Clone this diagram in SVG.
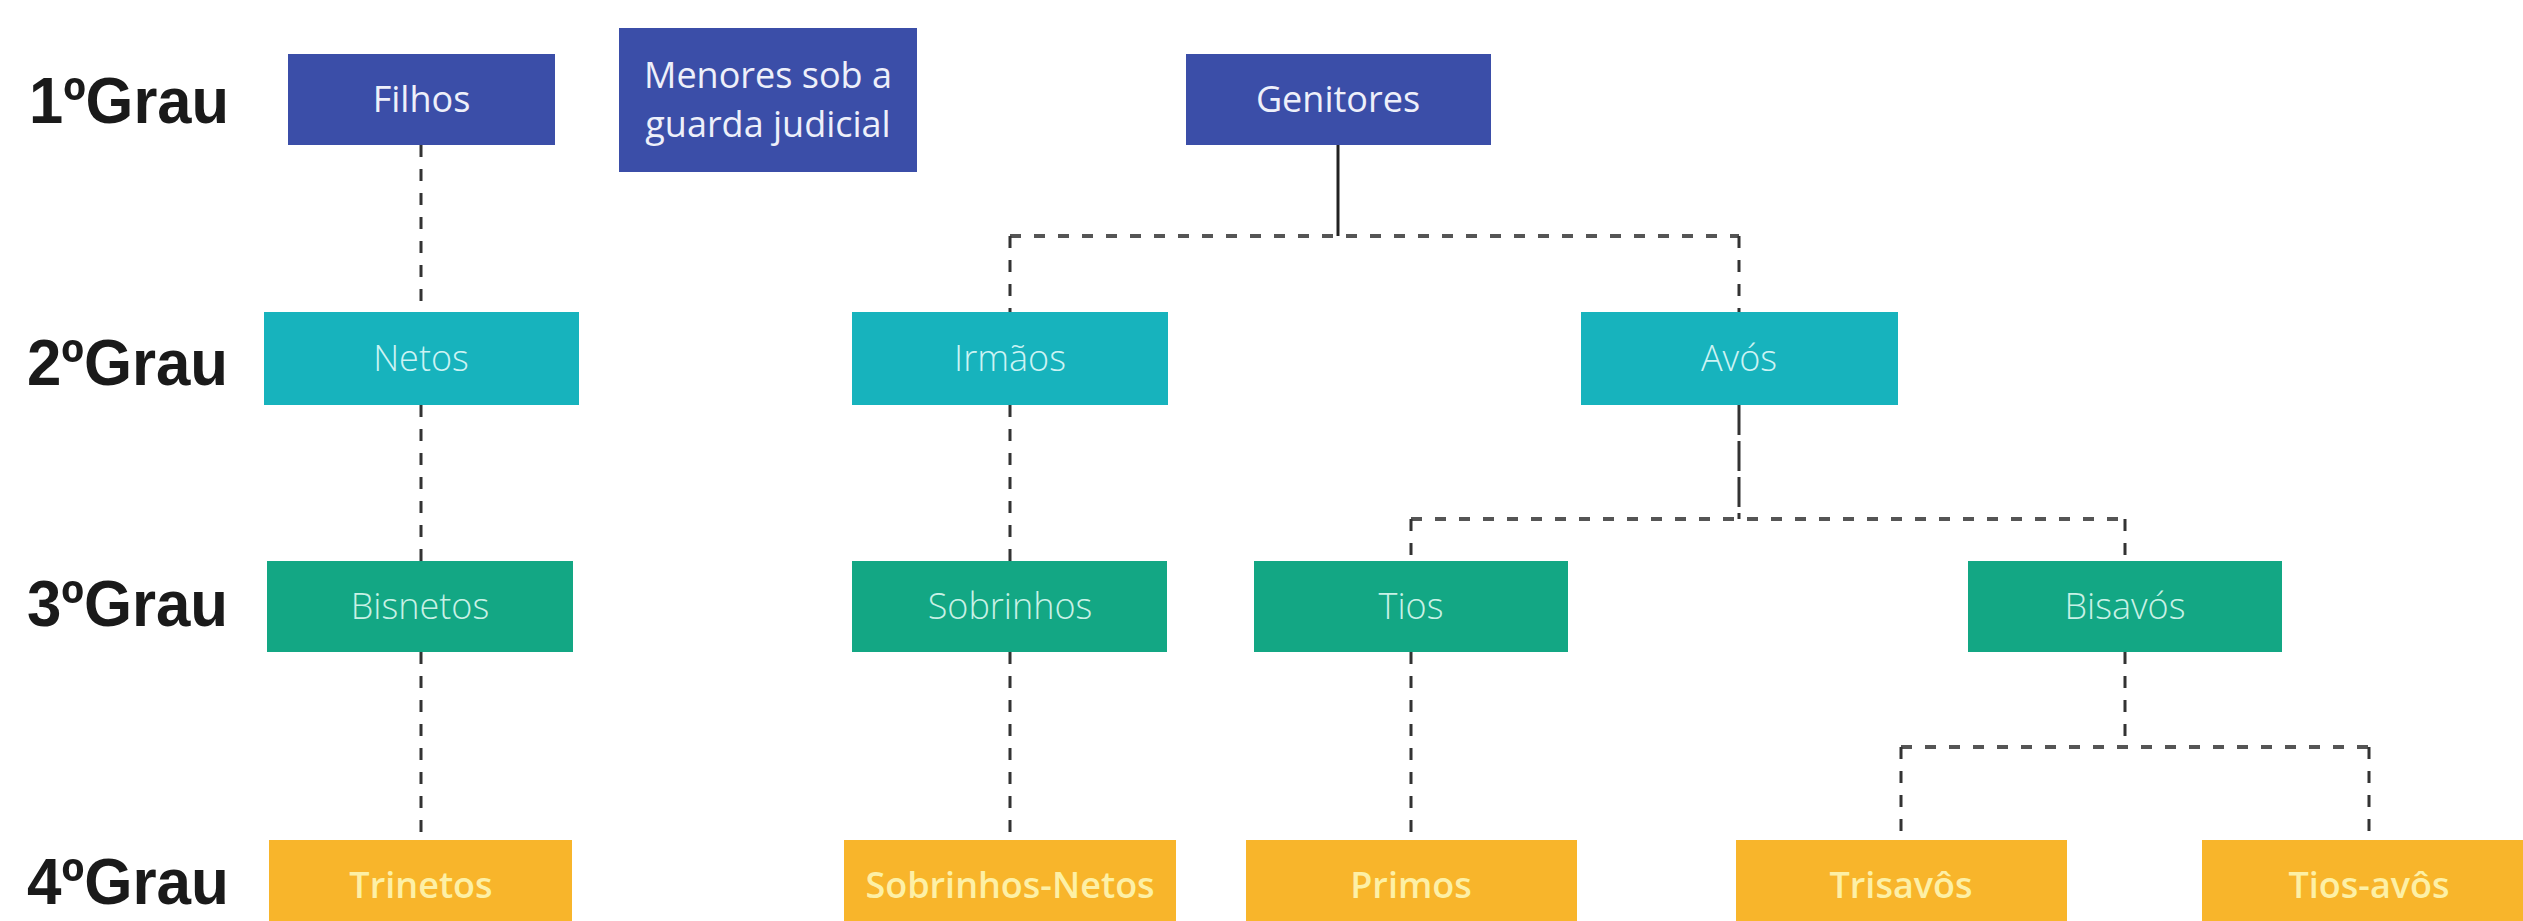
<svg xmlns="http://www.w3.org/2000/svg" width="2523" height="921" viewBox="0 0 2523 921">
<style>
.bg{fill:#ffffff}
.lbl{font-family:"Liberation Sans",Arial,sans-serif;font-weight:bold;font-size:65px;fill:#1a1a1a}
.t{font-family:"Open Sans","Liberation Sans",sans-serif;font-size:36px;text-anchor:middle}
.r1 rect{fill:#3b4ea8}
.r1 text{fill:#eef0fa;font-weight:400}
.r2 rect{fill:#17b3bd}
.r2 text{fill:#cdf3f4;font-weight:300}
.r3 rect{fill:#13a784}
.r3 text{fill:#c9f1e6;font-weight:300}
.r4 rect{fill:#f8b52b}
.r4 text{fill:#fdf0a6;font-weight:600}
.v{fill:none;stroke:#333333;stroke-width:3;stroke-dasharray:12 12}
.h{fill:none;stroke:#555555;stroke-width:4;stroke-dasharray:11 13}
.s{fill:none;stroke:#222222;stroke-width:3}
</style>
<rect class="bg" x="0" y="0" width="2523" height="921"/>

<g id="labels">
<text class="lbl" x="29" y="123" textLength="200" lengthAdjust="spacingAndGlyphs">1ºGrau</text>
<text class="lbl" x="27" y="385" textLength="201" lengthAdjust="spacingAndGlyphs">2ºGrau</text>
<text class="lbl" x="27" y="626" textLength="201" lengthAdjust="spacingAndGlyphs">3ºGrau</text>
<text class="lbl" x="27" y="904" textLength="202" lengthAdjust="spacingAndGlyphs">4ºGrau</text>
</g>

<g id="connectors">
<line class="v" x1="421" y1="145" x2="421" y2="312"/>
<line class="v" x1="421" y1="405" x2="421" y2="561"/>
<line class="v" x1="421" y1="652" x2="421" y2="840"/>
<line class="s" x1="1338" y1="145" x2="1338" y2="236"/>
<line class="h" x1="1010" y1="236" x2="1739" y2="236"/>
<line class="v" x1="1010" y1="236" x2="1010" y2="312"/>
<line class="v" x1="1739" y1="236" x2="1739" y2="312"/>
<line class="v" x1="1010" y1="405" x2="1010" y2="561"/>
<line class="v" x1="1010" y1="652" x2="1010" y2="840"/>
<line class="v" x1="1739" y1="405" x2="1739" y2="519" style="stroke-dasharray:30 6"/>
<line class="h" x1="1411" y1="519" x2="2125" y2="519"/>
<line class="v" x1="1411" y1="519" x2="1411" y2="561"/>
<line class="v" x1="2125" y1="519" x2="2125" y2="561"/>
<line class="v" x1="1411" y1="652" x2="1411" y2="840"/>
<line class="v" x1="2125" y1="652" x2="2125" y2="747"/>
<line class="h" x1="1901" y1="747" x2="2369" y2="747"/>
<line class="v" x1="1901" y1="747" x2="1901" y2="840"/>
<line class="v" x1="2369" y1="747" x2="2369" y2="840"/>
</g>

<g class="r1">
<g id="filhos"><rect x="288" y="54" width="267" height="91"/><text class="t" x="421.5" y="112">Filhos</text></g>
<g id="menores"><rect x="619" y="28" width="298" height="144"/><text class="t" x="768" y="88">Menores sob a</text><text class="t" x="768" y="137">guarda judicial</text></g>
<g id="genitores"><rect x="1186" y="54" width="305" height="91"/><text class="t" x="1338" y="112">Genitores</text></g>
</g>

<g class="r2">
<g id="netos"><rect x="264" y="312" width="315" height="93"/><text class="t" x="421" y="371">Netos</text></g>
<g id="irmaos"><rect x="852" y="312" width="316" height="93"/><text class="t" x="1010" y="371">Irmãos</text></g>
<g id="avos"><rect x="1581" y="312" width="317" height="93"/><text class="t" x="1739" y="371">Avós</text></g>
</g>

<g class="r3">
<g id="bisnetos"><rect x="267" y="561" width="306" height="91"/><text class="t" x="420" y="619">Bisnetos</text></g>
<g id="sobrinhos"><rect x="852" y="561" width="315" height="91"/><text class="t" x="1010" y="619">Sobrinhos</text></g>
<g id="tios"><rect x="1254" y="561" width="314" height="91"/><text class="t" x="1411" y="619">Tios</text></g>
<g id="bisavos"><rect x="1968" y="561" width="314" height="91"/><text class="t" x="2125" y="619">Bisavós</text></g>
</g>

<g class="r4">
<g id="trinetos"><rect x="269" y="840" width="303" height="91"/><text class="t" x="421" y="898">Trinetos</text></g>
<g id="sobrinhos-netos"><rect x="844" y="840" width="332" height="91"/><text class="t" x="1010" y="898">Sobrinhos-Netos</text></g>
<g id="primos"><rect x="1246" y="840" width="331" height="91"/><text class="t" x="1411" y="898">Primos</text></g>
<g id="trisavos"><rect x="1736" y="840" width="331" height="91"/><text class="t" x="1901" y="898">Trisavôs</text></g>
<g id="tios-avos"><rect x="2202" y="840" width="334" height="91"/><text class="t" x="2369" y="898">Tios-avôs</text></g>
</g>
</svg>
